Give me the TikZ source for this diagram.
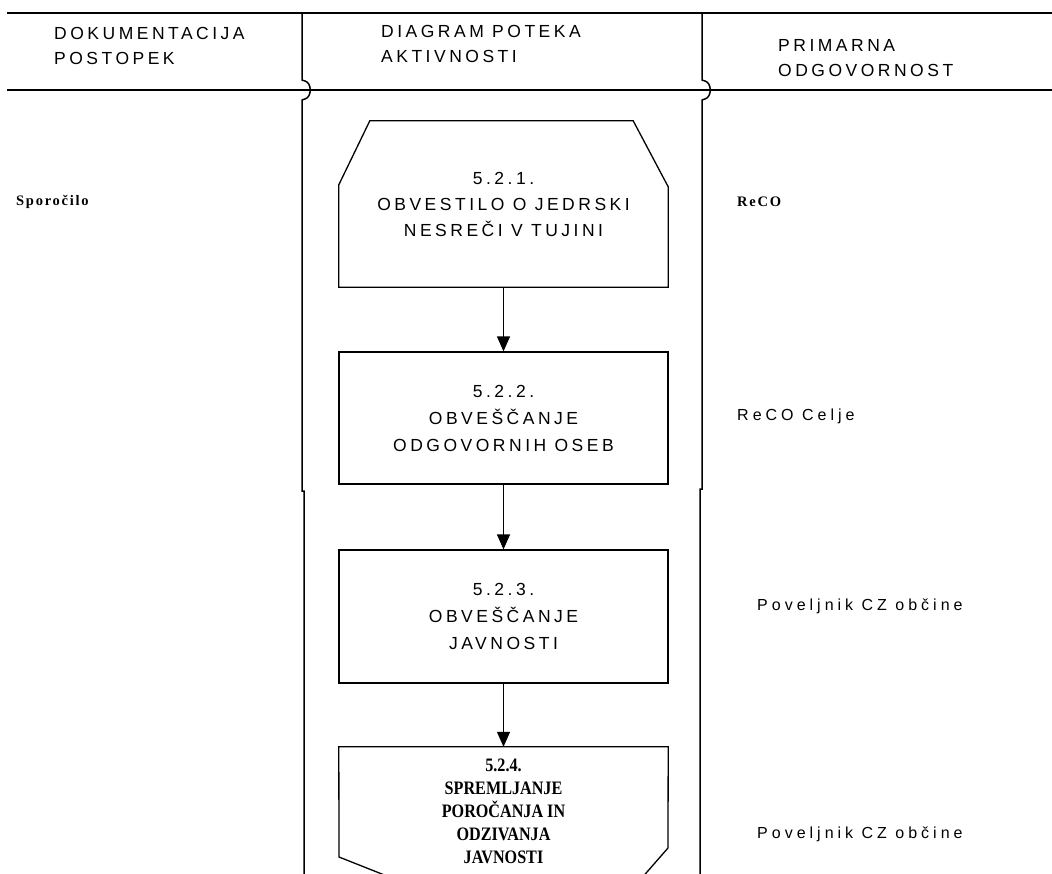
\documentclass[tikz,border=0pt]{standalone}
\usepackage{fontspec}
\setmainfont{Liberation Sans}
\newfontfamily\sansls[LetterSpace=20]{Liberation Sans}
\newfontfamily\sanslsr[LetterSpace=25]{Liberation Sans}
\newfontfamily\serifls[LetterSpace=12]{Liberation Serif}
\newfontfamily\serifbox[FakeStretch=0.85]{Liberation Serif}
\usetikzlibrary{arrows.meta}
\begin{document}
\begin{tikzpicture}[x=1pt,y=-1pt,
  hline/.style={line width=2pt},
  vline/.style={line width=1.5pt},
  hdr/.style={anchor=west, align=left, inner sep=0pt, font=\sansls\fontsize{17.5}{25}\selectfont},
  stepbox/.style={draw, line width=1.3pt, minimum width=329pt, inner sep=0pt, align=center, font=\sansls\fontsize{17.5}{27}\selectfont},
  shapebox/.style={minimum width=329pt, inner sep=0pt, align=center},
  serifsmall/.style={anchor=west, inner sep=0pt, font=\serifls\bfseries\fontsize{14.5}{16}\selectfont},
  resp/.style={anchor=west, inner sep=0pt, font=\sanslsr\fontsize{16}{20}\selectfont},
  flow/.style={line width=1.3pt, -{Triangle[width=13pt,length=15pt]}}]
\useasboundingbox (0,0) rectangle (1052,873);
\clip (0,0) rectangle (1052,873);
\fill[white] (0,0) rectangle (1052,873);
% header lines
\draw[hline] (7,13) -- (1052,13);
\draw[hline] (7,90) -- (1052,90);
% column separators
\draw[vline] (302,13) -- (302,80) -- (305,81) .. controls (312,83) and (312,97) .. (305,99) -- (302,100) -- (302,491) -- (304,491) -- (304,880);
\draw[vline] (702,13) -- (702,80) -- (705,81) .. controls (712,83) and (712,97) .. (705,99) -- (702,100) -- (702,489) -- (700,489) -- (700,880);
% headers
\node[hdr] (h1) at (54,46) {DOKUMENTACIJA\\POSTOPEK};
\node[hdr] (h2) at (381,43.5) {DIAGRAM POTEKA\\AKTIVNOSTI};
\node[hdr] (h3) at (778,58.5) {PRIMARNA\\ODGOVORNOST};
% box 1
\node[shapebox, minimum height=166pt, font=\sansls\fontsize{17.5}{26}\selectfont] (b1) at (503.5,204) {5.2.1.\\OBVESTILO O JEDRSKI\\NESREČI V TUJINI};
\draw[line width=1.3pt] ([xshift=31pt]b1.north west) -- ([xshift=-35pt]b1.north east) -- ([yshift=-66pt]b1.north east) -- (b1.south east) -- (b1.south west) -- ([yshift=-64pt]b1.north west) -- cycle;
% box 2
\node[stepbox, minimum height=132pt] (b2) at (503.5,418) {5.2.2.\\OBVEŠČANJE\\ODGOVORNIH OSEB};
% box 3
\node[stepbox, minimum height=133pt] (b3) at (503.5,616.5) {5.2.3.\\OBVEŠČANJE\\JAVNOSTI};
% box 4
\node[shapebox, minimum height=128pt, font=\serifbox\bfseries\fontsize{19}{23}\selectfont] (b4) at (503.5,811) {5.2.4.\\SPREMLJANJE\\POROČANJA IN\\ODZIVANJA\\JAVNOSTI};
\draw[line width=1.3pt] (397,880) -- (339,857) -- (b4.north west) -- (b4.north east) -- (668,848) -- (640,880);
% connectors
\draw[flow] (b1.south) -- (b2.north);
\draw[flow] (b2.south) -- (b3.north);
\draw[flow] (b3.south) -- (b4.north);
% left column
\node[serifsmall] (d1) at (16,202) {Sporočilo};
% right column
\node[serifsmall] (r1) at (737,202) {ReCO};
\node[resp] (r2) at (737,416) {ReCO Celje};
\node[resp] (r3) at (757,606) {Poveljnik CZ občine};
\node[resp] (r4) at (757,834) {Poveljnik CZ občine};
\end{tikzpicture}
\end{document}
